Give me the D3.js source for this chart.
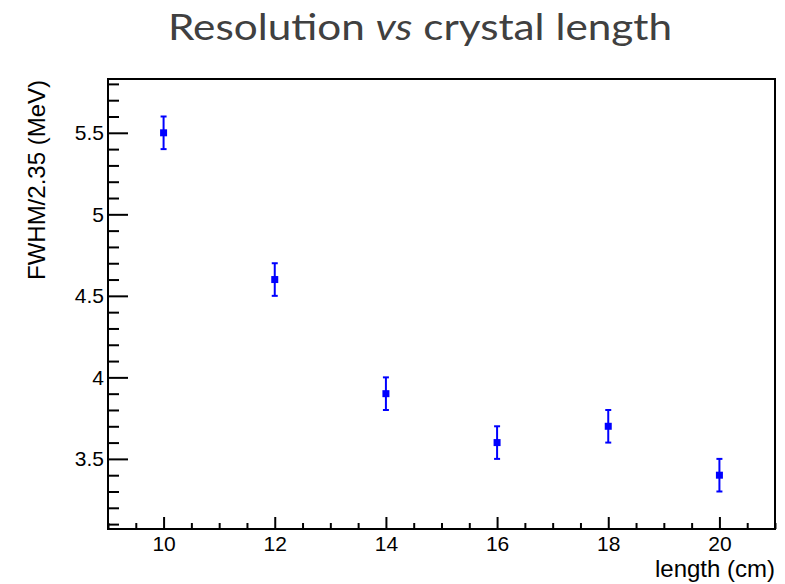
<!DOCTYPE html>
<html>
<head>
<meta charset="utf-8">
<script src="https://cdn.jsdelivr.net/npm/d3@7"></script>
<style>
  html, body { margin: 0; padding: 0; background: #fff; }
  svg { display: block; }
</style>
</head>
<body>
<svg id="chart" width="785" height="584"></svg>
<script>
// Crystal length (cm) and energy resolution FWHM/2.35 (MeV) with errors
const lengths = [10, 12, 14, 16, 18, 20];
const resolution = [5.5, 4.6, 3.9, 3.6, 3.7, 3.4];
const resolutionErr = [0.1, 0.1, 0.1, 0.1, 0.1, 0.1];

const xMajorTicks = [10, 12, 14, 16, 18, 20];
const yMajorTicks = [3.5, 4, 4.5, 5, 5.5];
const xDomain = [9, 21];
const yDomain = [3.07, 5.83];

const svg = d3.select("#chart");
const frame = { left: 108, right: 775, top: 79, bottom: 529 };

const x = d3.scaleLinear().domain(xDomain).range([frame.left, frame.right]);
const y = d3.scaleLinear().domain(yDomain).range([frame.bottom, frame.top]);

// Title
svg.append("text")
  .attr("x", 420).attr("y", 40)
  .attr("text-anchor", "middle")
  .attr("font-family", "Lato, 'Open Sans', sans-serif")
  .attr("font-size", 37)
  .attr("fill", "#404040")
  .attr("textLength", 504)
  .attr("lengthAdjust", "spacingAndGlyphs")
  .call(t => {
    t.append("tspan").text("Resolution ");
    t.append("tspan").attr("font-style", "italic").text("vs");
    t.append("tspan").text(" crystal length");
  });

// Frame box
svg.append("rect")
  .attr("x", frame.left).attr("y", frame.top)
  .attr("width", frame.right - frame.left)
  .attr("height", frame.bottom - frame.top)
  .attr("fill", "none").attr("stroke", "#000").attr("stroke-width", 2);

const font = "'Liberation Sans', Arial, Helvetica, sans-serif";

// Bottom axis: major ticks every 2, minor every 0.5
const xMinor = d3.range(9, 21.001, 0.5).filter(v => !xMajorTicks.includes(v));
const xAxisMajor = d3.axisBottom(x).tickValues(xMajorTicks).tickSize(-12).tickPadding(0).tickFormat(d3.format("d"));
const gx = svg.append("g").attr("transform", `translate(0,${frame.bottom})`).call(xAxisMajor);
gx.select(".domain").remove();
gx.selectAll(".tick line").attr("stroke", "#000").attr("stroke-width", 2);
gx.selectAll(".tick text")
  .attr("font-family", font).attr("font-size", 21).attr("fill", "#000")
  .attr("dy", null).attr("y", 22);
const gxMinor = svg.append("g").attr("transform", `translate(0,${frame.bottom})`)
  .call(d3.axisBottom(x).tickValues(xMinor).tickSize(-6).tickFormat(""));
gxMinor.select(".domain").remove();
gxMinor.selectAll(".tick line").attr("stroke", "#000").attr("stroke-width", 2);

// Left axis: major ticks every 0.5, minor every 0.1
const yMinor = d3.range(31, 59).map(v => v / 10).filter(v => !yMajorTicks.includes(v));
const gy = svg.append("g").attr("transform", `translate(${frame.left},0)`)
  .call(d3.axisLeft(y).tickValues(yMajorTicks).tickSize(-20).tickPadding(0).tickFormat(d3.format("")));
gy.select(".domain").remove();
gy.selectAll(".tick line").attr("stroke", "#000").attr("stroke-width", 2);
gy.selectAll(".tick text")
  .attr("font-family", font).attr("font-size", 21).attr("fill", "#000")
  .attr("x", -4);
const gyMinor = svg.append("g").attr("transform", `translate(${frame.left},0)`)
  .call(d3.axisLeft(y).tickValues(yMinor).tickSize(-11).tickFormat(""));
gyMinor.select(".domain").remove();
gyMinor.selectAll(".tick line").attr("stroke", "#000").attr("stroke-width", 2);

// Axis titles
svg.append("text")
  .attr("x", 775).attr("y", 577)
  .attr("text-anchor", "end")
  .attr("font-family", font).attr("font-size", 24)
  .text("length (cm)");

svg.append("text")
  .attr("transform", "translate(45,80) rotate(-90)")
  .attr("text-anchor", "end")
  .attr("font-family", font).attr("font-size", 24)
  .text("FWHM/2.35 (MeV)");

// Data points with error bars
const pts = lengths.map((l, i) => ({ x: l, y: resolution[i], e: resolutionErr[i] }));
const blue = "#0000ff";
const g = svg.append("g");
const pt = g.selectAll("g.pt").data(pts).join("g").attr("class", "pt");
pt.append("line")
  .attr("x1", d => x(d.x)).attr("x2", d => x(d.x))
  .attr("y1", d => y(d.y - d.e)).attr("y2", d => y(d.y + d.e))
  .attr("stroke", blue).attr("stroke-width", 2);
[-1, 1].forEach(s => {
  pt.append("line")
    .attr("x1", d => x(d.x) - 3).attr("x2", d => x(d.x) + 3)
    .attr("y1", d => y(d.y + s * d.e)).attr("y2", d => y(d.y + s * d.e))
    .attr("stroke", blue).attr("stroke-width", 2);
});
pt.append("rect")
  .attr("x", d => x(d.x) - 3.5).attr("y", d => y(d.y) - 3.5)
  .attr("width", 7).attr("height", 7)
  .attr("fill", blue);
</script>
</body>
</html>
